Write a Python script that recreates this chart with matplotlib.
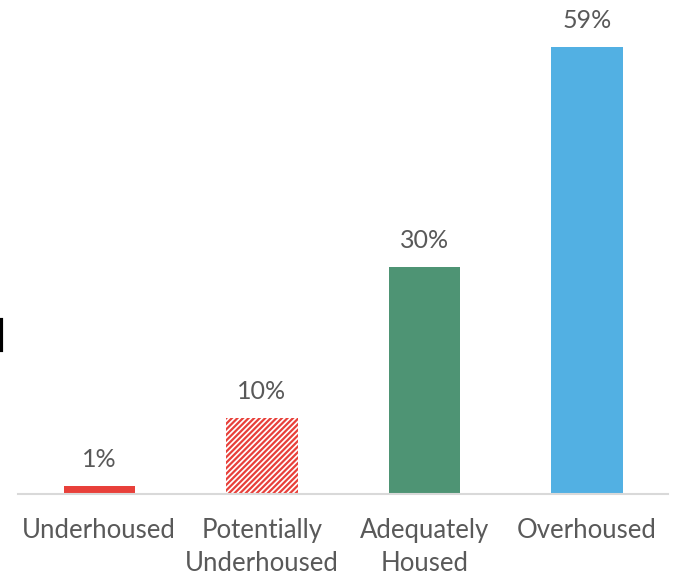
import matplotlib
matplotlib.use("Agg")
import matplotlib.pyplot as plt
from matplotlib.lines import Line2D

categories = ["Underhoused", "Potentially\nUnderhoused", "Adequately\nHoused", "Overhoused"]
values = [1, 10, 30, 59]
labels = ["1%", "10%", "30%", "59%"]
colors = ["#E8403A", "white", "#4E9474", "#52B0E3"]

plt.rcParams['font.family'] = ['Lato', 'DejaVu Sans']
plt.rcParams['hatch.linewidth'] = 1.6
plt.rcParams['hatch.color'] = "#E8403A"

fig = plt.figure(figsize=(6.8, 5.8), dpi=100)
ax = fig.add_axes([18/680, 86/580, 650/680, 494/580])

x = list(range(len(categories)))
bars = ax.bar(x, values, width=0.44, color=colors, linewidth=0)
bars[1].set_hatch("//////")
bars[1].set_edgecolor("#E8403A")
bars[1].set_linewidth(0)

for xi, v, lab in zip(x, values, labels):
    ax.text(xi, v + 2.0, lab, ha="center", va="bottom", fontsize=18, color="#595959")

ax.set_xlim(-0.5, 3.5)
ax.set_ylim(0, 65.2)
ax.set_xticks(x)
ax.set_xticklabels(categories, fontsize=18.5, color="#595959", linespacing=1.42)
ax.tick_params(axis="x", length=0, pad=17)
ax.set_yticks([])
for s in ["top", "left", "right"]:
    ax.spines[s].set_visible(False)
ax.spines["bottom"].set_color("#D9D9D9")
ax.spines["bottom"].set_linewidth(1.5)

fig.add_artist(Line2D([1/680, 1/680], [1 - 320/580, 1 - 350/580], color="black", linewidth=3, transform=fig.transFigure))

fig.savefig("out.png", dpi=100)
